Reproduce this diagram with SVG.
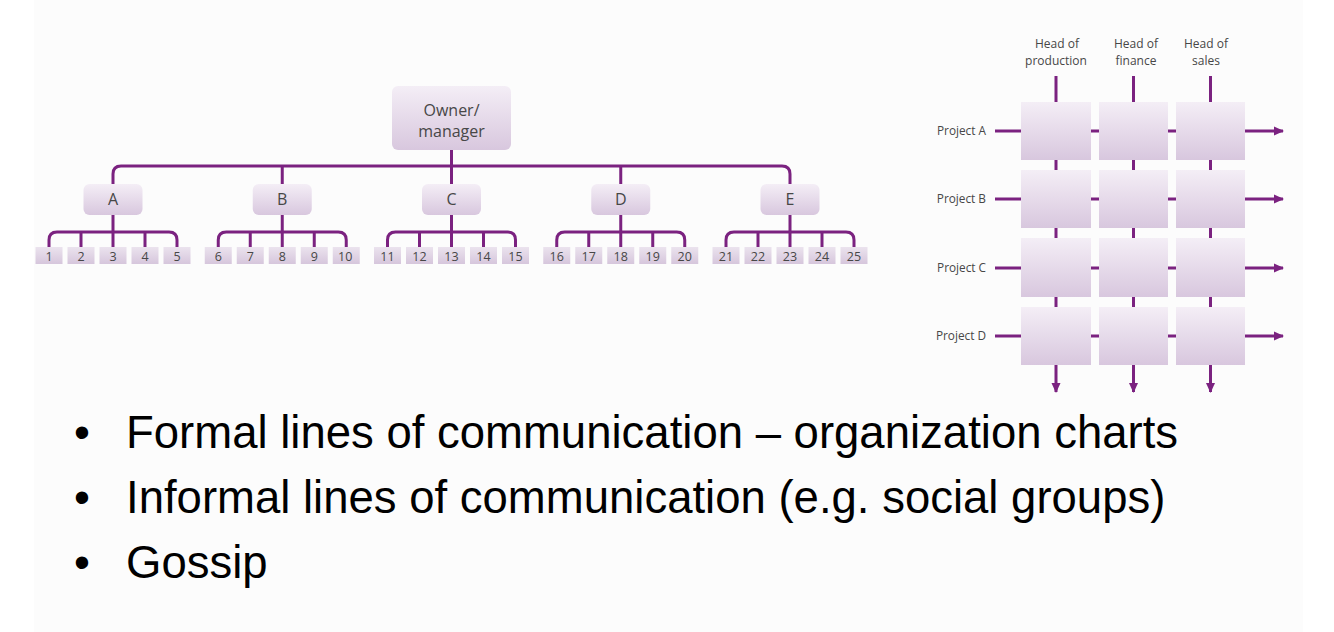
<svg xmlns="http://www.w3.org/2000/svg" width="1334" height="632" viewBox="0 0 1334 632">
<defs>
<linearGradient id="g" x1="0" y1="0" x2="0" y2="1"><stop offset="0" stop-color="#f4eef6"/><stop offset="1" stop-color="#d8c7de"/></linearGradient>
<linearGradient id="gl" x1="0" y1="0" x2="0" y2="1"><stop offset="0" stop-color="#ebe3ee"/><stop offset="1" stop-color="#d6c6dc"/></linearGradient>
<marker id="ar" markerWidth="10" markerHeight="10" refX="9" refY="5" orient="auto" markerUnits="userSpaceOnUse"><path d="M0,0.5 L10,5 L0,9.5 z" fill="#7b2280"/></marker>
</defs>
<style>
.ln{stroke:#7b2280;stroke-width:3;fill:none}
.nd{fill:url(#g)}
.lf{fill:url(#gl)}
.t{font-family:"Open Sans","Liberation Sans",sans-serif;fill:#474747;text-anchor:middle}
.big{font-size:16px}
.sm{font-size:12px}
.num{font-size:12.5px}
.pl{font-family:"Open Sans","Liberation Sans",sans-serif;fill:#474747;font-size:11.8px;text-anchor:end}
.bl{font-family:"Liberation Sans",Arial,sans-serif;font-size:45.5px;fill:#000}
</style>
<rect x="0" y="0" width="1334" height="632" fill="#ffffff"/>
<rect x="34" y="0" width="1269" height="632" fill="#fcfcfc"/>

<g id="connectors">
<path class="ln" d="M451.5,150 V166"/>
<path class="ln" d="M113,184 V174 Q113,166 121,166 H782 Q790,166 790,174 V184"/>
<path class="ln" d="M282.25,166 V184 M451.5,166 V184 M620.75,166 V184"/>
<path class="ln" d="M113,215 V232 M49,247 V240 Q49,232 57,232 H169 Q177,232 177,240 V247 M81,232 V247 M113,232 V247 M145,232 V247"/>
<path class="ln" d="M282.25,215 V232 M218.25,247 V240 Q218.25,232 226.25,232 H338.25 Q346.25,232 346.25,240 V247 M250.25,232 V247 M282.25,232 V247 M314.25,232 V247"/>
<path class="ln" d="M451.5,215 V232 M387.5,247 V240 Q387.5,232 395.5,232 H507.5 Q515.5,232 515.5,240 V247 M419.5,232 V247 M451.5,232 V247 M483.5,232 V247"/>
<path class="ln" d="M620.75,215 V232 M556.75,247 V240 Q556.75,232 564.75,232 H676.75 Q684.75,232 684.75,240 V247 M588.75,232 V247 M620.75,232 V247 M652.75,232 V247"/>
<path class="ln" d="M790,215 V232 M726,247 V240 Q726,232 734,232 H846 Q854,232 854,240 V247 M758,232 V247 M790,232 V247 M822,232 V247"/>
<path class="ln" d="M1056,76 V102 M1133.5,76 V102 M1210.5,76 V102"/>
<path class="ln" d="M1056,160 V170 M1133.5,160 V170 M1210.5,160 V170 M1056,228 V238 M1133.5,228 V238 M1210.5,228 V238 M1056,297 V307 M1133.5,297 V307 M1210.5,297 V307"/>
<path class="ln" d="M995,131 H1021 M1091,131 H1099 M1168,131 H1176 M995,199 H1021 M1091,199 H1099 M1168,199 H1176 M995,268 H1021 M1091,268 H1099 M1168,268 H1176 M995,336 H1021 M1091,336 H1099 M1168,336 H1176"/>
<path class="ln" marker-end="url(#ar)" d="M1245,131 H1283"/>
<path class="ln" marker-end="url(#ar)" d="M1245,199 H1283"/>
<path class="ln" marker-end="url(#ar)" d="M1245,268 H1283"/>
<path class="ln" marker-end="url(#ar)" d="M1245,336 H1283"/>
<path class="ln" marker-end="url(#ar)" d="M1056,365 V392"/>
<path class="ln" marker-end="url(#ar)" d="M1133.5,365 V392"/>
<path class="ln" marker-end="url(#ar)" d="M1210.5,365 V392"/>
</g>

<g id="owner"><rect class="nd" x="392" y="86" width="119" height="64" rx="6"/><text class="t big" x="451.5" y="116">Owner/</text><text class="t big" x="451.5" y="137">manager</text></g>
<g id="nodeA"><rect class="nd" x="83.5" y="184" width="59" height="31" rx="6"/><text class="t big" x="113" y="205">A</text></g>
<g id="nodeB"><rect class="nd" x="252.75" y="184" width="59" height="31" rx="6"/><text class="t big" x="282.25" y="205">B</text></g>
<g id="nodeC"><rect class="nd" x="422" y="184" width="59" height="31" rx="6"/><text class="t big" x="451.5" y="205">C</text></g>
<g id="nodeD"><rect class="nd" x="591.25" y="184" width="59" height="31" rx="6"/><text class="t big" x="620.75" y="205">D</text></g>
<g id="nodeE"><rect class="nd" x="760.5" y="184" width="59" height="31" rx="6"/><text class="t big" x="790" y="205">E</text></g>

<g id="leaves">
<g id="leaf1"><rect class="lf" x="35.5" y="247" width="27" height="17"/><text class="t num" x="49" y="260.5">1</text></g>
<g id="leaf2"><rect class="lf" x="67.5" y="247" width="27" height="17"/><text class="t num" x="81" y="260.5">2</text></g>
<g id="leaf3"><rect class="lf" x="99.5" y="247" width="27" height="17"/><text class="t num" x="113" y="260.5">3</text></g>
<g id="leaf4"><rect class="lf" x="131.5" y="247" width="27" height="17"/><text class="t num" x="145" y="260.5">4</text></g>
<g id="leaf5"><rect class="lf" x="163.5" y="247" width="27" height="17"/><text class="t num" x="177" y="260.5">5</text></g>
<g id="leaf6"><rect class="lf" x="204.75" y="247" width="27" height="17"/><text class="t num" x="218.25" y="260.5">6</text></g>
<g id="leaf7"><rect class="lf" x="236.75" y="247" width="27" height="17"/><text class="t num" x="250.25" y="260.5">7</text></g>
<g id="leaf8"><rect class="lf" x="268.75" y="247" width="27" height="17"/><text class="t num" x="282.25" y="260.5">8</text></g>
<g id="leaf9"><rect class="lf" x="300.75" y="247" width="27" height="17"/><text class="t num" x="314.25" y="260.5">9</text></g>
<g id="leaf10"><rect class="lf" x="332.75" y="247" width="27" height="17"/><text class="t num" x="345.25" y="260.5">10</text></g>
<g id="leaf11"><rect class="lf" x="374" y="247" width="27" height="17"/><text class="t num" x="387.5" y="260.5">11</text></g>
<g id="leaf12"><rect class="lf" x="406" y="247" width="27" height="17"/><text class="t num" x="419.5" y="260.5">12</text></g>
<g id="leaf13"><rect class="lf" x="438" y="247" width="27" height="17"/><text class="t num" x="451.5" y="260.5">13</text></g>
<g id="leaf14"><rect class="lf" x="470" y="247" width="27" height="17"/><text class="t num" x="483.5" y="260.5">14</text></g>
<g id="leaf15"><rect class="lf" x="502" y="247" width="27" height="17"/><text class="t num" x="515.5" y="260.5">15</text></g>
<g id="leaf16"><rect class="lf" x="543.25" y="247" width="27" height="17"/><text class="t num" x="556.75" y="260.5">16</text></g>
<g id="leaf17"><rect class="lf" x="575.25" y="247" width="27" height="17"/><text class="t num" x="588.75" y="260.5">17</text></g>
<g id="leaf18"><rect class="lf" x="607.25" y="247" width="27" height="17"/><text class="t num" x="620.75" y="260.5">18</text></g>
<g id="leaf19"><rect class="lf" x="639.25" y="247" width="27" height="17"/><text class="t num" x="652.75" y="260.5">19</text></g>
<g id="leaf20"><rect class="lf" x="671.25" y="247" width="27" height="17"/><text class="t num" x="684.75" y="260.5">20</text></g>
<g id="leaf21"><rect class="lf" x="712.5" y="247" width="27" height="17"/><text class="t num" x="726" y="260.5">21</text></g>
<g id="leaf22"><rect class="lf" x="744.5" y="247" width="27" height="17"/><text class="t num" x="758" y="260.5">22</text></g>
<g id="leaf23"><rect class="lf" x="776.5" y="247" width="27" height="17"/><text class="t num" x="790" y="260.5">23</text></g>
<g id="leaf24"><rect class="lf" x="808.5" y="247" width="27" height="17"/><text class="t num" x="822" y="260.5">24</text></g>
<g id="leaf25"><rect class="lf" x="840.5" y="247" width="27" height="17"/><text class="t num" x="854" y="260.5">25</text></g>
</g>

<g id="heads">
<g id="headProduction"><text class="t sm" x="1057" y="48">Head of</text><text class="t sm" x="1056" y="65">production</text></g>
<g id="headFinance"><text class="t sm" x="1136" y="48">Head of</text><text class="t sm" x="1136" y="65">finance</text></g>
<g id="headSales"><text class="t sm" x="1206" y="48">Head of</text><text class="t sm" x="1206" y="65">sales</text></g>
</g>
<g id="projects">
<text class="pl" x="986" y="135">Project A</text>
<text class="pl" x="986" y="203">Project B</text>
<text class="pl" x="986" y="272">Project C</text>
<text class="pl" x="986" y="340">Project D</text>
</g>
<g id="matrix">
<rect class="nd" x="1021" y="102" width="70" height="58"/><rect class="nd" x="1099" y="102" width="69" height="58"/><rect class="nd" x="1176" y="102" width="69" height="58"/>
<rect class="nd" x="1021" y="170" width="70" height="58"/><rect class="nd" x="1099" y="170" width="69" height="58"/><rect class="nd" x="1176" y="170" width="69" height="58"/>
<rect class="nd" x="1021" y="238" width="70" height="59"/><rect class="nd" x="1099" y="238" width="69" height="59"/><rect class="nd" x="1176" y="238" width="69" height="59"/>
<rect class="nd" x="1021" y="307" width="70" height="58"/><rect class="nd" x="1099" y="307" width="69" height="58"/><rect class="nd" x="1176" y="307" width="69" height="58"/>
</g>

<g id="bullets">
<text class="bl" x="82" y="448" text-anchor="middle">•</text>
<text class="bl" x="126" y="448">Formal lines of communication – organization charts</text>
<text class="bl" x="82" y="513" text-anchor="middle">•</text>
<text class="bl" x="126" y="513">Informal lines of communication (e.g. social groups)</text>
<text class="bl" x="82" y="578" text-anchor="middle">•</text>
<text class="bl" x="126" y="578">Gossip</text>
</g>
</svg>
